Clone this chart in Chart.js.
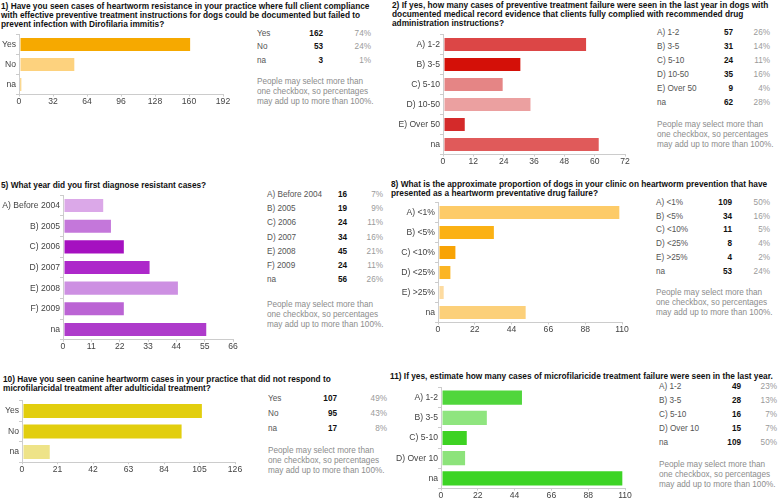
<!DOCTYPE html>
<html>
<head>
<meta charset="utf-8">
<script src="https://cdn.jsdelivr.net/npm/chart.js@4/dist/chart.umd.min.js"></script>
<style>
  body { margin: 0; background: #fff; width: 778px; height: 501px; overflow: hidden; position: relative;
         font-family: "Liberation Sans", Arial, sans-serif; }
  .t { position: absolute; font-weight: bold; font-size: 8.3px; line-height: 9px; color: #111; white-space: nowrap; }
  .c { position: absolute; font-size: 8.2px; line-height: 10px; white-space: nowrap; }
  canvas { position: absolute; }
</style>
</head>
<body>
<script>
// ---- data ----
var q1Labels = ["Yes", "No", "na"];
var q1Counts = [162, 53, 3];
var q1Pcts = ["74%", "24%", "1%"];
var q1Ticks = [0, 32, 64, 96, 128, 160, 192];

var q2Labels = ["A) 1-2", "B) 3-5", "C) 5-10", "D) 10-50", "E) Over 50", "na"];
var q2Counts = [57, 31, 24, 35, 9, 62];
var q2Pcts = ["26%", "14%", "11%", "16%", "4%", "28%"];
var q2Ticks = [0, 12, 24, 36, 48, 60, 72];

var q5Labels = ["A) Before 2004", "B) 2005", "C) 2006", "D) 2007", "E) 2008", "F) 2009", "na"];
var q5Counts = [16, 19, 24, 34, 45, 24, 56];
var q5Pcts = ["7%", "9%", "11%", "16%", "21%", "11%", "26%"];
var q5Ticks = [0, 11, 22, 33, 44, 55, 66];

var q8Labels = ["A) <1%", "B) <5%", "C) <10%", "D) <25%", "E) >25%", "na"];
var q8Counts = [109, 34, 11, 8, 4, 53];
var q8Pcts = ["50%", "16%", "5%", "4%", "2%", "24%"];
var q8Ticks = [0, 22, 44, 66, 88, 110];

var q10Labels = ["Yes", "No", "na"];
var q10Counts = [107, 95, 17];
var q10Pcts = ["49%", "43%", "8%"];
var q10Ticks = [0, 21, 42, 63, 84, 105, 126];

var q11Labels = ["A) 1-2", "B) 3-5", "C) 5-10", "D) Over 10", "na"];
var q11Counts = [49, 28, 16, 15, 109];
var q11Pcts = ["23%", "13%", "7%", "7%", "50%"];
var q11Ticks = [0, 22, 44, 66, 88, 110];

var noteLines = ["People may select more than", "one checkbox, so percentages", "may add up to more than 100%."];

// ---- colours ----
var q1Colors = ["#F6A900", "#FDD27E", "#F5B123"];
var q2Colors = ["#DC4646", "#D41008", "#E58585", "#EBA0A0", "#D42A2A", "#E05A5A"];
var q5Colors = ["#DBA8E8", "#C477DA", "#A510C0", "#AD28CA", "#CD90E2", "#BB64D4", "#AE3BCB"];
var q8Colors = ["#FDCB68", "#FBB114", "#F8A304", "#FBB524", "#FDDBA0", "#FCD07A"];
var q10Colors = ["#E2CE0E", "#E2CE0E", "#EEE388"];
var q11Colors = ["#50D63C", "#8FE57F", "#3DD222", "#8DE37B", "#3DD425"];

Chart.defaults.font.family = '"Liberation Sans", Arial, sans-serif';
Chart.defaults.font.size = 8.6;
Chart.defaults.color = "#444";

function addText(cls, x, y, html, style){
    var d = document.createElement("div");
    d.className = cls;
    d.style.left = x + "px";
    d.style.top = y + "px";
    if (style) d.style.cssText += style;
    d.innerHTML = html;
    document.body.appendChild(d);
    return d;
}

function title(x, y, lines){
    addText("t", x, y - 4.5, lines.join("<br>"));
}

function table(g, labels, counts, pcts){
    for (var i = 0; i < labels.length; i++) {
        var y = g.rows[i] - 5;
        addText("c", g.lx, y, labels[i].replace(/</g, "&lt;"), "color:#555;");
        addText("c", g.cx - 40, y, counts[i], "width:40px;text-align:right;font-weight:bold;color:#111;");
        addText("c", g.px - 40, y, pcts[i], "width:40px;text-align:right;color:#9a9a9a;");
    }
    for (var j = 0; j < noteLines.length; j++) {
        addText("c", g.lx, g.note + j * 10.2 - 5, noteLines[j], "color:#8c8c8c;");
    }
}

function barChart(g, labels, counts, colors, ticks, barPct){
    var top = Math.floor(g.plotTop - 8);
    var padTop = g.plotTop - top;
    var xH = 18, padRight = 12;
    var w = g.axisEnd + padRight - g.left;
    var h = Math.ceil(padTop + (g.plotBottom - g.plotTop) + xH);
    var cv = document.createElement("canvas");
    cv.width = w; cv.height = h;
    cv.style.left = g.left + "px";
    cv.style.top = top + "px";
    document.body.appendChild(cv);
    new Chart(cv, {
        type: "bar",
        data: {
            labels: labels,
            datasets: [{
                data: counts,
                backgroundColor: colors,
                borderColor: "rgba(255,255,255,0.35)",
                borderWidth: 1,
                borderSkipped: false,
                barPercentage: barPct,
                categoryPercentage: 1
            }]
        },
        options: {
            indexAxis: "y",
            responsive: false,
            animation: false,
            devicePixelRatio: 1,
            layout: { padding: { top: padTop, right: padRight, left: 0, bottom: h - padTop - (g.plotBottom - g.plotTop) - xH } },
            plugins: { legend: { display: false }, tooltip: { enabled: false } },
            scales: {
                x: {
                    min: 0, max: ticks[ticks.length - 1],
                    afterBuildTicks: function(s){ s.ticks = ticks.map(function(v){ return { value: v }; }); },
                    afterFit: function(s){ s.height = xH; },
                    grid: { drawOnChartArea: false, tickLength: 2, color: "#ccc" },
                    border: { color: "#ccc" },
                    ticks: { padding: 0, color: "#444", maxRotation: 0 }
                },
                y: {
                    afterFit: function(s){ s.width = g.axisX - g.left; },
                    grid: { drawOnChartArea: false, tickLength: 3, color: "#ccc" },
                    border: { color: "#ccc" },
                    ticks: { padding: 0, color: "#444" }
                }
            }
        }
    });
}

// ---- panel 1 ----
title(1, 6, ["1) Have you seen cases of heartworm resistance in your practice where full client compliance",
             "with effective preventive treatment instructions for dogs could be documented but failed to",
             "prevent infection with Dirofilaria immitis?"]);
barChart({ left: 0, axisX: 19, axisEnd: 223, plotTop: 34.5, plotBottom: 94.5 }, q1Labels, q1Counts, q1Colors, q1Ticks, 0.75);
table({ lx: 257, cx: 323, px: 371, rows: [33.5, 47, 60.7], note: 81.5 }, q1Labels, q1Counts, q1Pcts);

// ---- panel 2 ----
title(392, 5, ["2) If yes, how many cases of preventive treatment failure were seen in the last year in dogs with",
               "documented medical record evidence that clients fully complied with recommended drug",
               "administration instructions?"]);
barChart({ left: 390, axisX: 443, axisEnd: 625, plotTop: 34.5, plotBottom: 154.5 }, q2Labels, q2Counts, q2Colors, q2Ticks, 0.75);
table({ lx: 657, cx: 733, px: 770, rows: [33.3, 47, 61, 75, 89, 103.3], note: 125 }, q2Labels, q2Counts, q2Pcts);

// ---- panel 5 ----
title(1, 185, ["5) What year did you first diagnose resistant cases?"]);
barChart({ left: 0, axisX: 63, axisEnd: 233, plotTop: 195.2, plotBottom: 339.8 }, q5Labels, q5Counts, q5Colors, q5Ticks, 0.73);
table({ lx: 267, cx: 347, px: 383, rows: [195, 209, 223, 238, 252, 266, 280], note: 305 }, q5Labels, q5Counts, q5Pcts);

// ---- panel 8 ----
title(391, 184, ["8) What is the approximate proportion of dogs in your clinic on heartworm prevention that have",
                 "presented as a heartworm preventative drug failure?"]);
barChart({ left: 390, axisX: 438, axisEnd: 622, plotTop: 202.5, plotBottom: 322.5 }, q8Labels, q8Counts, q8Colors, q8Ticks, 0.75);
table({ lx: 656, cx: 732, px: 770, rows: [203, 217, 230, 244, 258, 272], note: 293 }, q8Labels, q8Counts, q8Pcts);

// ---- panel 10 ----
title(3, 379.3, ["10) Have you seen canine heartworm cases in your practice that did not respond to",
                 "microfilaricidal treatment after adulticidal treatment?"]);
barChart({ left: 0, axisX: 22, axisEnd: 235, plotTop: 400.75, plotBottom: 462.25 }, q10Labels, q10Counts, q10Colors, q10Ticks, 0.78);
table({ lx: 268, cx: 337, px: 387, rows: [399, 414, 429], note: 451 }, q10Labels, q10Counts, q10Pcts);

// ---- panel 11 ----
title(390, 376, ["11) If yes, estimate how many cases of microfilaricide treatment failure were seen in the last year."]);
barChart({ left: 390, axisX: 441, axisEnd: 625, plotTop: 387.5, plotBottom: 488.5 }, q11Labels, q11Counts, q11Colors, q11Ticks, 0.8);
table({ lx: 659, cx: 741, px: 777, rows: [387, 401, 415, 429, 443], note: 465 }, q11Labels, q11Counts, q11Pcts);
</script>
</body>
</html>
